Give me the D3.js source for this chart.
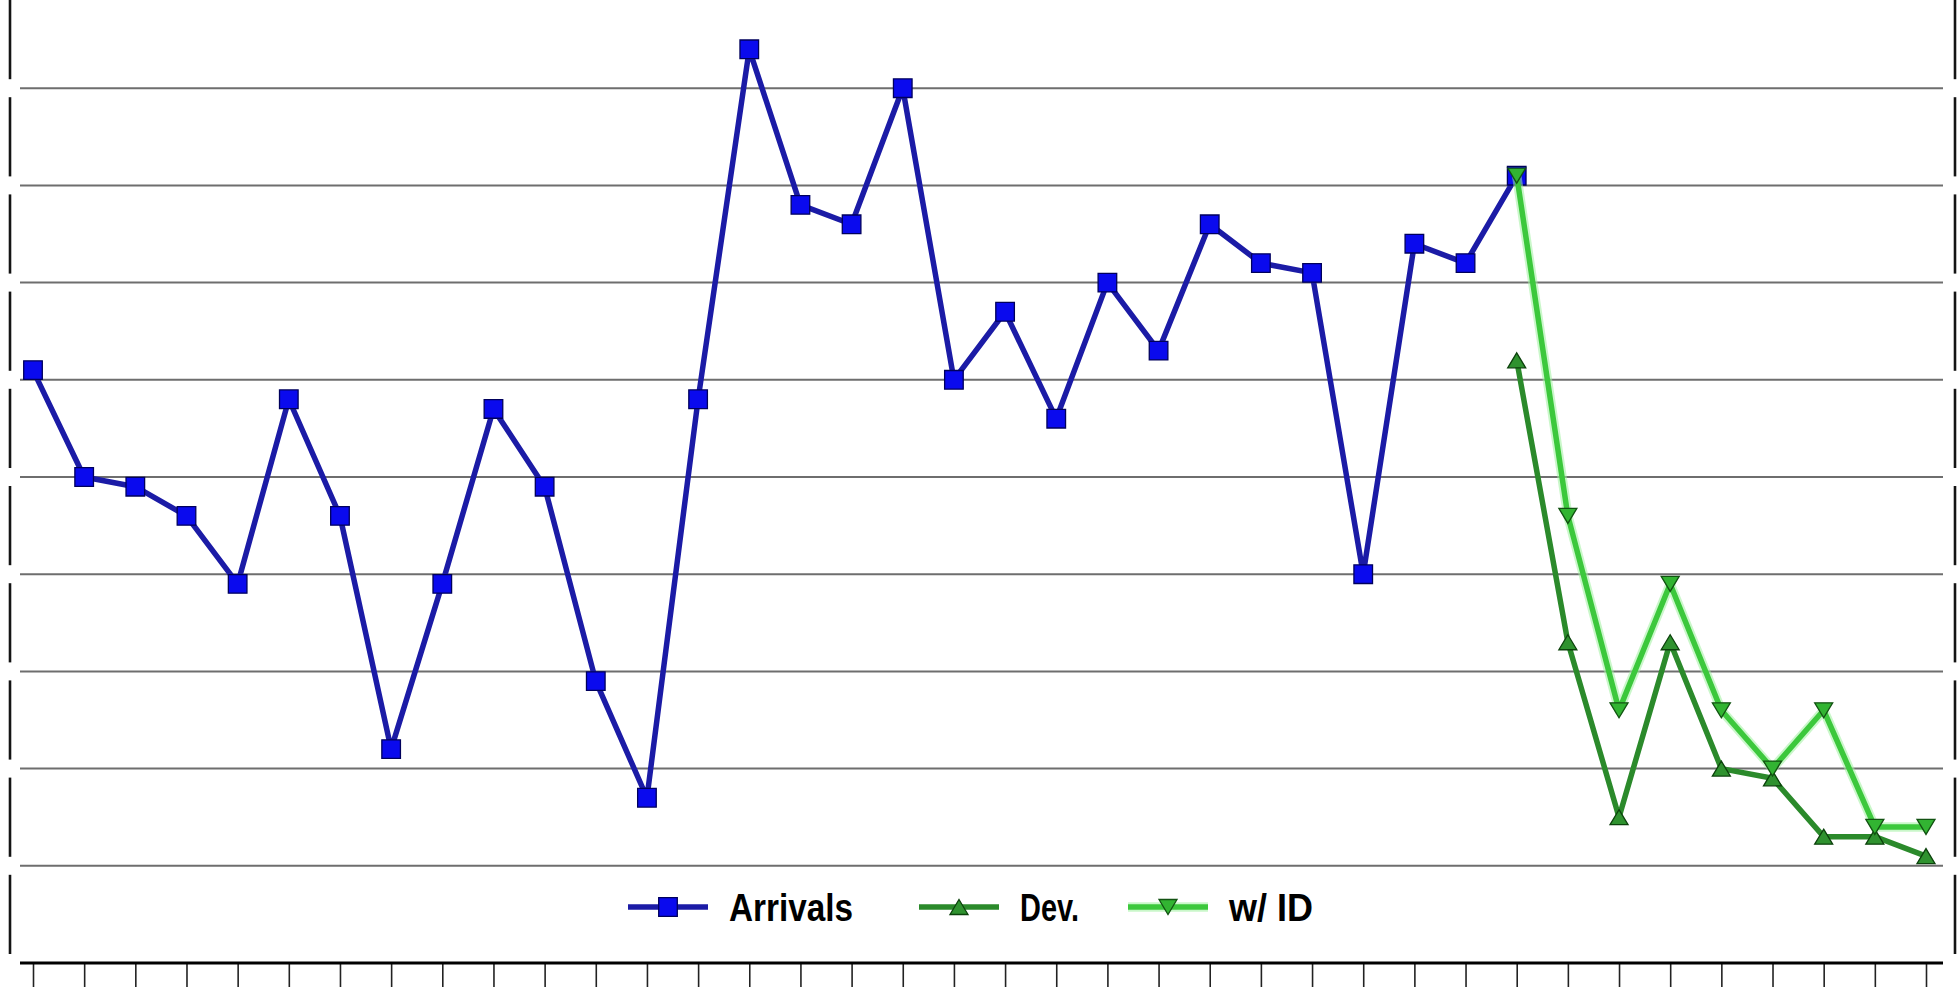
<!DOCTYPE html>
<html>
<head>
<meta charset="utf-8">
<script src="https://cdn.jsdelivr.net/npm/d3@7"></script>
<style>
  html, body { margin: 0; padding: 0; background: #fff; overflow: hidden; }
  svg { display: block; }
</style>
</head>
<body>
<svg id="chart" width="1957" height="987"></svg>
<script>
// ---- Data -------------------------------------------------------------
// 38 reporting periods along the horizontal axis (no labels shown)
const periods = d3.range(1, 39);

// Arrivals, periods 1-30
const arrivals = [61, 50, 49, 46, 39, 58, 46, 22, 39, 57,
                  49, 29, 17, 58, 94, 78, 76, 90, 60, 67,
                  56, 70, 63, 76, 72, 71, 40, 74, 72, 81];

// Dev. and w/ ID, periods 30-38
const dev    = [62, 33, 15, 33, 20, 19, 13, 13, 11];
const withId = [81, 46, 26, 39, 26, 20, 26, 14, 14];

// Horizontal gridlines and value range
const gridValues = [10, 20, 30, 40, 50, 60, 70, 80, 90];
const yMax = 100;

const seriesNames = ["Arrivals", "Dev.", "w/ ID"];

// ---- Layout ------------------------------------------------------------
const plotLeft = 20, plotRight = 1943;
const svg = d3.select("#chart");

const x = d3.scalePoint().domain(periods).range([33, 1926]);
const y = d3.scaleLinear().domain([0, yMax]).range([963, -9]);

const series = [
  { name: seriesNames[0], periods: periods.slice(0, arrivals.length), values: arrivals,
    line: "#1b1ba6", fill: "#0a0aee", stroke: "#00005c", marker: "square" },
  { name: seriesNames[1], periods: periods.slice(periods.length - dev.length), values: dev,
    line: "#2b8a2b", fill: "#2f922f", stroke: "#0c420c", marker: "up" },
  { name: seriesNames[2], periods: periods.slice(periods.length - withId.length), values: withId,
    line: "#3cc83c", fill: "#32b432", stroke: "#125212", marker: "down", glow: true }
];

// Marker shapes, centred on their bounding box
function markerPath(kind) {
  if (kind === "square") return "M-9.3,-9.3H9.3V9.3H-9.3Z";
  if (kind === "up") return "M0,-7.5L9,7.5H-9Z";
  return "M-9,-7.5H9L0,7.5Z";
}

// ---- Gridlines ---------------------------------------------------------
svg.append("g")
  .selectAll("line")
  .data(gridValues)
  .join("line")
  .attr("x1", plotLeft).attr("x2", plotRight)
  .attr("y1", d => y(d)).attr("y2", d => y(d))
  .attr("stroke", "#6e6e6e")
  .attr("stroke-width", 2);

// Side rules, broken where each gridline meets them
const bands = d3.range(0, yMax, 10);
[10, 1955].forEach(sx => {
  svg.append("g")
    .selectAll("line")
    .data(bands)
    .join("line")
    .attr("x1", sx).attr("x2", sx)
    .attr("y1", d => y(d) - 9)
    .attr("y2", d => Math.max(0, y(d + 10) + 9))
    .attr("stroke", "#141414")
    .attr("stroke-width", 2.6);
});

// ---- Category axis -----------------------------------------------------
const xAxis = d3.axisBottom(x).tickSize(26).tickSizeOuter(0).tickFormat("");
const gx = svg.append("g").attr("transform", `translate(0,${y(0)})`).call(xAxis);
gx.select(".domain").remove();
gx.selectAll(".tick line").attr("stroke", "#222").attr("stroke-width", 1.6);
svg.append("line")
  .attr("x1", plotLeft).attr("x2", plotRight)
  .attr("y1", y(0)).attr("y2", y(0))
  .attr("stroke", "#000")
  .attr("stroke-width", 3);

// ---- Series lines and markers -----------------------------------------
const lineGen = d3.line()
  .x(d => x(d.p))
  .y(d => y(d.v));

series.forEach(s => {
  const pts = s.values.map((v, i) => ({ p: s.periods[i], v }));
  const g = svg.append("g");
  if (s.glow) {
    g.append("path").datum(pts).attr("d", lineGen)
      .attr("fill", "none").attr("stroke", "#9ff09f")
      .attr("stroke-width", 9.5).attr("stroke-opacity", 0.55)
      .attr("stroke-linejoin", "round");
  }
  g.append("path").datum(pts).attr("d", lineGen)
    .attr("fill", "none").attr("stroke", s.line)
    .attr("stroke-width", 5.5).attr("stroke-linejoin", "round");
  g.selectAll("path.mk").data(pts).join("path")
    .attr("class", "mk")
    .attr("d", markerPath(s.marker))
    .attr("transform", d => `translate(${x(d.p)},${y(d.v)})`)
    .attr("fill", s.fill).attr("stroke", s.stroke).attr("stroke-width", 1.3);
});

// ---- Legend ------------------------------------------------------------
const legendY = 907;
const legendX = [628, 919, 1128];
const legendTextWidth = [124, 59, 84];
const legend = svg.append("g");
series.forEach((s, i) => {
  const x0 = legendX[i];
  const g = legend.append("g");
  if (s.glow) {
    g.append("line").attr("x1", x0).attr("x2", x0 + 80)
      .attr("y1", legendY).attr("y2", legendY)
      .attr("stroke", "#9ff09f").attr("stroke-width", 9.5).attr("stroke-opacity", 0.55);
  }
  g.append("line").attr("x1", x0).attr("x2", x0 + 80)
    .attr("y1", legendY).attr("y2", legendY)
    .attr("stroke", s.line).attr("stroke-width", 5.5);
  g.append("path").attr("d", markerPath(s.marker))
    .attr("transform", `translate(${x0 + 40},${legendY})`)
    .attr("fill", s.fill).attr("stroke", s.stroke).attr("stroke-width", 1.3);
  g.append("text")
    .attr("x", x0 + 101)
    .attr("y", legendY + 14)
    .attr("font-family", "'Liberation Sans', Arial, sans-serif")
    .attr("font-weight", "bold")
    .attr("font-size", 38)
    .attr("textLength", legendTextWidth[i])
    .attr("lengthAdjust", "spacingAndGlyphs")
    .attr("fill", "#000")
    .text(s.name);
});
</script>
</body>
</html>
